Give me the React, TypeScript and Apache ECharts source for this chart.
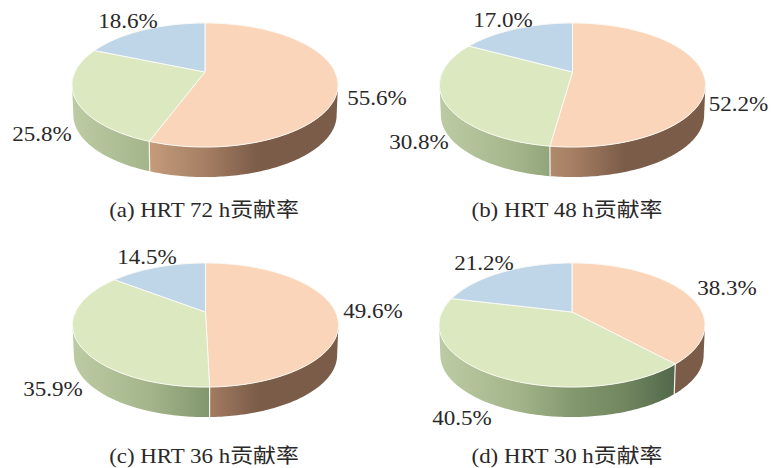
import React, { useEffect, useRef } from "react";
import * as echarts from "echarts";

const shareA = [55.6, 25.8, 18.6];
const shareB = [52.2, 30.8, 17.0];
const shareC = [49.6, 35.9, 14.5];
const shareD = [38.3, 40.5, 21.2];
const captions = ["(a) HRT 72 h贡献率", "(b) HRT 48 h贡献率", "(c) HRT 36 h贡献率", "(d) HRT 30 h贡献率"];

const TOP_COLORS = ["#fbd5b9", "#dce8c0", "#bfd6e9"];
const WALL_STOPS = [
  [[0, "#e0b898"], [0.3, "#c49a7a"], [0.42, "#b08a6c"], [0.5, "#a67e64"], [0.7, "#7a5c48"], [1, "#7a5c48"]],
  [[0, "#bccba3"], [0.3, "#a3b48a"], [0.5, "#84986f"], [0.7, "#71865f"], [0.9, "#4f6649"], [1, "#4f6649"]],
  [[0, "#9db8d0"], [1, "#5a7890"]],
];

// Projective tilt of a unit disc: nearer points are drawn larger.
const TILT = 0.21;
const RADIUS_X = 130;
const RADIUS_Y = 59.3;
const DEPTH = 30;

const TEXT_COLOR = "#2a2829";

const PIES = [
  { values: shareA, cx: 205, cy: 72, labels: [[377, 98], [42, 134], [128, 21]], captionX: 204, captionY: 210 },
  { values: shareB, cx: 572.5, cy: 72, labels: [[738.5, 104], [419, 142], [503, 20]], captionX: 567, captionY: 210 },
  { values: shareC, cx: 205.5, cy: 312, labels: [[373, 311], [53, 389], [147, 257]], captionX: 204, captionY: 456 },
  { values: shareD, cx: 572, cy: 312, labels: [[727, 288], [462, 418], [484, 263]], captionX: 567, captionY: 456 },
];

function project(cx: number, cy: number, theta: number, drop = 0, shrink = 1) {
  const u = Math.sin(theta);
  const v = -Math.cos(theta);
  const w = 1 - TILT * v;
  return [cx + (RADIUS_X * shrink * u) / w, cy + drop + (RADIUS_Y * v) / w];
}

function arcPoints(cx: number, cy: number, from: number, to: number, drop = 0, shrink = 1) {
  const pts: number[][] = [];
  const steps = Math.max(2, Math.ceil(Math.abs(to - from) / (Math.PI / 180)));
  for (let i = 0; i <= steps; i++) {
    pts.push(project(cx, cy, from + ((to - from) * i) / steps, drop, shrink));
  }
  return pts;
}

const FRONT_START = Math.acos(-TILT);
const FRONT_END = 2 * Math.PI - FRONT_START;

function makeSeries(pie: (typeof PIES)[number]) {
  const { values, cx, cy, labels } = pie;
  const total = values.reduce((a, b) => a + b, 0);
  return {
    type: "custom",
    coordinateSystem: "none",
    silent: true,
    data: values.map((v) => [v]),
    renderItem: (params: any, api: any) => {
      const i = params.dataIndex;
      const before = values.slice(0, i).reduce((a, b) => a + b, 0);
      const start = (before / total) * 2 * Math.PI;
      const end = start + (api.value(0) / total) * 2 * Math.PI;
      const children: any[] = [];

      const wallFrom = Math.max(start, FRONT_START);
      const wallTo = Math.min(end, FRONT_END);
      if (wallTo > wallFrom) {
        const upper = arcPoints(cx, cy, wallFrom, wallTo);
        const lower = arcPoints(cx, cy, wallTo, wallFrom, DEPTH, 0.99);
        children.push({
          type: "polygon",
          shape: { points: upper.concat(lower) },
          style: {
            fill: new echarts.graphic.LinearGradient(
              cx - 133, 0, cx + 133, 0,
              WALL_STOPS[i].map(([offset, color]) => ({ offset, color })) as any,
              true
            ),
          },
        });
        if (end < FRONT_END) {
          const a = project(cx, cy, end);
          const b = project(cx, cy, end, DEPTH, 0.99);
          children.push({
            type: "line",
            shape: { x1: a[0], y1: a[1], x2: b[0], y2: b[1] },
            style: { stroke: "#f4f4ee", lineWidth: 1.2 },
            z2: 5,
          });
        }
      }

      children.push({
        type: "polygon",
        shape: { points: [[cx, cy], ...arcPoints(cx, cy, start, end)] },
        style: { fill: TOP_COLORS[i], stroke: "#fafaf4", lineWidth: 1, lineJoin: "round" },
        z2: 10,
      });

      children.push({
        type: "text",
        z2: 20,
        x: labels[i][0],
        y: labels[i][1],
        scaleX: 1.05,
        style: {
          text: `${api.value(0).toFixed(1)}%`,
          x: 0,
          y: 0,
          align: "center",
          verticalAlign: "middle",
          fill: TEXT_COLOR,
          font: '22px "Liberation Serif", serif',
        },
      });
      return { type: "group", children };
    },
  };
}

export default function App() {
  const ref = useRef<HTMLDivElement>(null);
  useEffect(() => {
    const chart = echarts.init(ref.current!, undefined, { renderer: "svg" });
    chart.setOption({
      animation: false,
      backgroundColor: "#ffffff",
      graphic: PIES.map((p, i) => ({
        type: "text",
        x: p.captionX,
        y: p.captionY,
        scaleX: 1.146,
        silent: true,
        style: {
          text: captions[i],
          x: 0,
          y: 0,
          align: "center",
          verticalAlign: "middle",
          fill: TEXT_COLOR,
          font: '20px "Liberation Serif", "Noto Sans CJK SC", serif',
        },
      })),
      series: PIES.map(makeSeries),
    });
    return () => chart.dispose();
  }, []);
  return <div ref={ref} style={{ position: "absolute", left: 0, top: 0, width: 776, height: 468 }} />;
}
